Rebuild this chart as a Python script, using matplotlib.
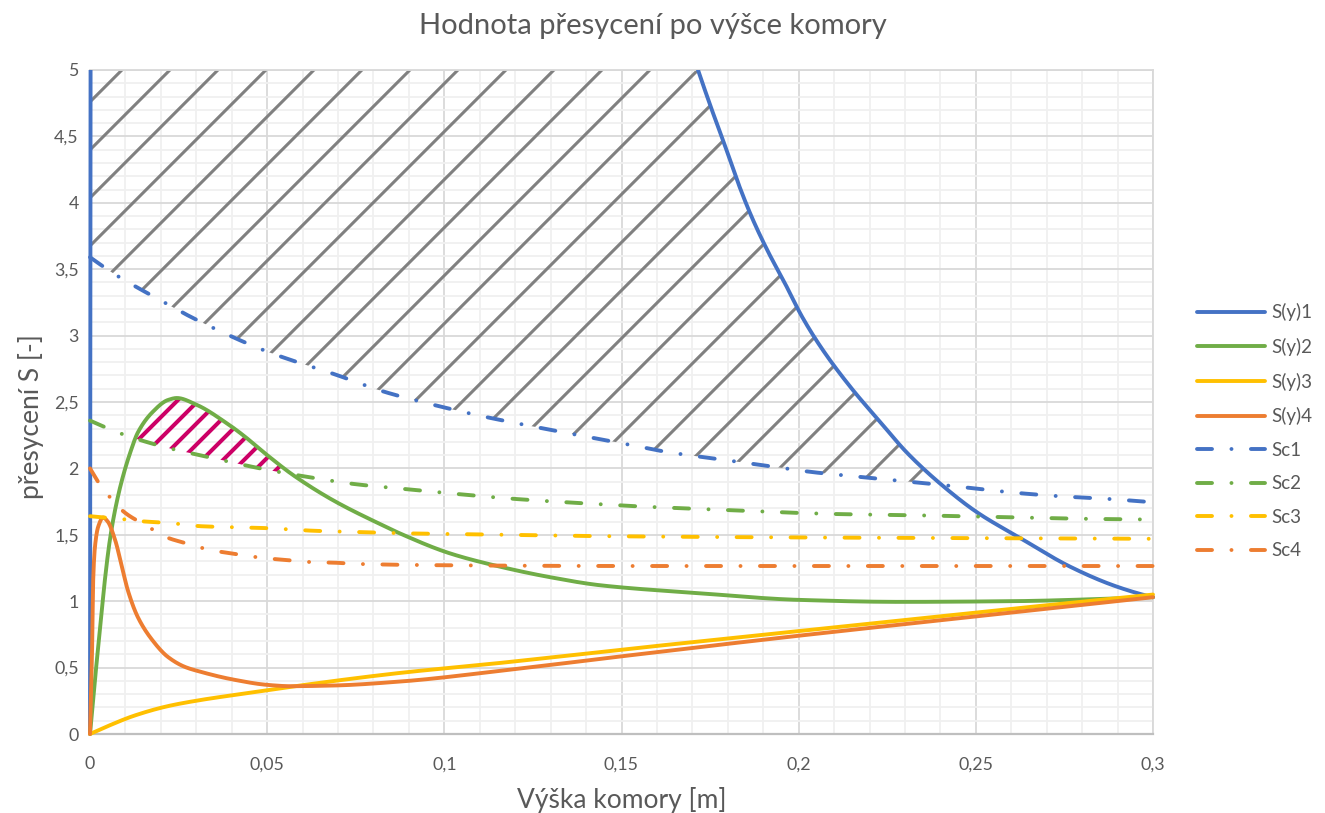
import numpy as np
import matplotlib.pyplot as plt
from matplotlib.collections import LineCollection
from matplotlib.patches import Rectangle
from matplotlib.path import Path
from matplotlib.ticker import MultipleLocator

plt.rcParams['font.family'] = ['Lato', 'DejaVu Sans']

TEXT = '#595959'

# --- supersaturation profiles S(y) ---
x_s1 = [0, 0.005, 0.05, 0.1, 0.15, 0.165, 0.1716, 0.1755, 0.1792, 0.1829, 0.1868,
        0.1914, 0.196, 0.201, 0.2066, 0.215, 0.223, 0.2305, 0.2404, 0.2503, 0.2625,
        0.2766, 0.2887, 0.297, 0.3]
s1 = [0, 150, 40, 12, 6.3, 5.55, 5.0, 4.70, 4.43, 4.15, 3.89,
      3.63, 3.40, 3.14, 2.90, 2.60, 2.35, 2.12, 1.875, 1.67, 1.476,
      1.26, 1.12, 1.05, 1.03]

x_s2 = [0, 0.0014, 0.0028, 0.0042, 0.0056, 0.0071, 0.009, 0.0113, 0.0135, 0.0175,
        0.022, 0.0245, 0.030, 0.0386, 0.0432, 0.050, 0.0573, 0.0686, 0.0827, 0.0875,
        0.1016, 0.1157, 0.13, 0.144, 0.172, 0.2, 0.2286, 0.26, 0.3]
s2 = [0, 0.41, 0.78, 1.16, 1.46, 1.69, 1.91, 2.115, 2.27, 2.42,
      2.515, 2.53, 2.48, 2.34, 2.25, 2.10, 1.95, 1.76, 1.57, 1.51,
      1.36, 1.26, 1.18, 1.12, 1.06, 1.01, 0.995, 1.0, 1.03]

x_s3 = [0, 0.0042, 0.0127, 0.022, 0.031, 0.045, 0.0565, 0.0875, 0.1157, 0.15, 0.2, 0.25, 0.3]
s3 = [0, 0.05, 0.14, 0.21, 0.255, 0.31, 0.355, 0.46, 0.535, 0.635, 0.775, 0.915, 1.05]

x_s4 = [0, 0.0006, 0.0009, 0.0014, 0.0023, 0.0037, 0.005, 0.0071, 0.009, 0.0107,
        0.0135, 0.0175, 0.022, 0.0268, 0.031, 0.0404, 0.05, 0.0565, 0.0686, 0.0875,
        0.1157, 0.15, 0.2, 0.25, 0.3]
s4 = [0, 0.65, 1.16, 1.41, 1.56, 1.63, 1.60, 1.46, 1.26, 1.08,
      0.88, 0.71, 0.58, 0.505, 0.47, 0.41, 0.37, 0.36, 0.365, 0.395,
      0.475, 0.585, 0.74, 0.885, 1.03]

# --- critical supersaturation Sc ---
x_c1 = [0, 0.0065, 0.0189, 0.03, 0.05, 0.07, 0.0827, 0.096, 0.1095, 0.13, 0.15,
        0.1637, 0.1773, 0.191, 0.2046, 0.218, 0.246, 0.2597, 0.2738, 0.2874, 0.3]
sc1 = [3.59, 3.47, 3.28, 3.12, 2.88, 2.70, 2.58, 2.485, 2.40, 2.29, 2.19,
       2.12, 2.07, 2.02, 1.97, 1.935, 1.86, 1.82, 1.79, 1.77, 1.745]

x_c2 = [0, 0.0079, 0.0212, 0.0344, 0.048, 0.0616, 0.0753, 0.089, 0.1025, 0.12,
        0.144, 0.158, 0.1717, 0.1853, 0.1995, 0.213, 0.2267, 0.2546, 0.282, 0.3]
sc2 = [2.36, 2.27, 2.16, 2.08, 2.00, 1.935, 1.88, 1.845, 1.81, 1.77,
       1.73, 1.71, 1.695, 1.68, 1.665, 1.655, 1.65, 1.635, 1.62, 1.615]

x_c3 = [0, 0.0085, 0.0155, 0.022, 0.031, 0.05, 0.0635, 0.077, 0.091, 0.105, 0.144, 0.2, 0.25, 0.3]
sc3 = [1.64, 1.62, 1.60, 1.59, 1.565, 1.55, 1.53, 1.52, 1.51, 1.505, 1.49, 1.48, 1.475, 1.47]

x_c4 = [0, 0.002, 0.0048, 0.008, 0.0107, 0.0155, 0.0217, 0.028, 0.034, 0.0414,
        0.0489, 0.0555, 0.062, 0.069, 0.0762, 0.1035, 0.15, 0.2, 0.3]
sc4 = [2.0, 1.91, 1.81, 1.71, 1.65, 1.575, 1.48, 1.43, 1.385, 1.355,
       1.325, 1.31, 1.295, 1.29, 1.28, 1.27, 1.265, 1.265, 1.265]

x_ticks = [0, 0.05, 0.1, 0.15, 0.2, 0.25, 0.3]
x_tick_labels = ['0', '0,05', '0,1', '0,15', '0,2', '0,25', '0,3']
y_ticks = [0, 0.5, 1, 1.5, 2, 2.5, 3, 3.5, 4, 4.5, 5]
y_tick_labels = ['0', '0,5', '1', '1,5', '2', '2,5', '3', '3,5', '4', '4,5', '5']

series = [
    ('S(y)1', x_s1, s1, '#4472C4', '-'),
    ('S(y)2', x_s2, s2, '#70AD47', '-'),
    ('S(y)3', x_s3, s3, '#FFC000', '-'),
    ('S(y)4', x_s4, s4, '#ED7D31', '-'),
    ('Sc1', x_c1, sc1, '#4472C4', 'dd'),
    ('Sc2', x_c2, sc2, '#70AD47', 'dd'),
    ('Sc3', x_c3, sc3, '#FFC000', 'dd'),
    ('Sc4', x_c4, sc4, '#ED7D31', 'dd'),
]


def smooth(x, y, xq):
    """Monotone cubic (Fritsch-Carlson) curve through the points, evaluated at xq."""
    x = np.asarray(x, float)
    y = np.asarray(y, float)
    h = np.diff(x)
    d = np.diff(y) / h
    m = np.zeros_like(y)
    m[0], m[-1] = d[0], d[-1]
    for k in range(1, len(x) - 1):
        if d[k - 1] * d[k] > 0:
            w1 = 2 * h[k] + h[k - 1]
            w2 = h[k] + 2 * h[k - 1]
            m[k] = (w1 + w2) / (w1 / d[k - 1] + w2 / d[k])
    idx = np.clip(np.searchsorted(x, xq, side='right') - 1, 0, len(x) - 2)
    t = (xq - x[idx]) / h[idx]
    h00 = 2 * t**3 - 3 * t**2 + 1
    h10 = t**3 - 2 * t**2 + t
    h01 = -2 * t**3 + 3 * t**2
    h11 = t**3 - t**2
    return h00 * y[idx] + h10 * h[idx] * m[idx] + h01 * y[idx + 1] + h11 * h[idx] * m[idx + 1]


W, H = 1325, 813
fig = plt.figure(figsize=(W / 100, H / 100), dpi=100)
ax = fig.add_axes([90 / W, 1 - 734 / H, (1153 - 90) / W, (734 - 70) / H])
ax.set_xlim(0, 0.3)
ax.set_ylim(0, 5)

# grid
ax.set_xticks(x_ticks)
ax.set_xticklabels(x_tick_labels)
ax.set_yticks(y_ticks)
ax.set_yticklabels(y_tick_labels)
ax.xaxis.set_minor_locator(MultipleLocator(0.01))
ax.yaxis.set_minor_locator(MultipleLocator(0.1))
ax.set_axisbelow(True)
ax.grid(which='minor', color='#F0F0F0', lw=1.3)
ax.grid(which='major', color='#D9D9D9', lw=1.3)
for side in ('top', 'right', 'left'):
    ax.spines[side].set_color('#D9D9D9')
    ax.spines[side].set_linewidth(1.3)
ax.spines['bottom'].set_color('#BFBFBF')
ax.spines['bottom'].set_linewidth(1.6)
ax.tick_params(which='both', length=0)
ax.tick_params(axis='x', labelsize=12.8, colors=TEXT, pad=16)
ax.tick_params(axis='y', labelsize=12.8, colors=TEXT, pad=8)

ax_w = W * ax.get_position().width
ax_h = H * ax.get_position().height
px_x = ax_w / 0.3
px_y = ax_h / 5.0
slope = px_x / px_y  # 45 degrees on screen

xg = np.linspace(0, 0.3, 6001)
curves = {label: smooth(xs, ys, xg) for label, xs, ys, _, _ in series}


def hatch_region(lo, hi, anchor, step_px, color, lw):
    poly = ax.fill_between(xg, lo, hi, where=hi > lo, interpolate=True,
                           facecolor='none', edgecolor='none', lw=0)
    clip = Path.make_compound_path(*poly.get_paths())
    step = step_px / px_x
    ax0, ay0 = anchor
    segs = []
    for n in range(-120, 120):
        c = ax0 + n * step
        xa = c + (-1 - ay0) / slope
        xb = c + (7 - ay0) / slope
        segs.append([(xa, -1), (xb, 7)])
    lc = LineCollection(segs, colors=color, linewidths=lw, zorder=1.5)
    ax.add_collection(lc)
    lc.set_clip_path(clip, ax.transData)


# region between Sc1 and S(y)1, and between Sc2 and S(y)2
hatch_region(curves['Sc1'], np.minimum(curves['S(y)1'], 5.0), (0.009, 5.0), 48, '#808080', 2.2)
hatch_region(curves['Sc2'], curves['S(y)2'], (0.0254, 2.53), 21, '#CC0066', 2.9)

# curves
clip_rect = Rectangle((-0.01, -0.01), 1.02, 1.01, transform=ax.transAxes,
                      facecolor='none', edgecolor='none')
dashdot = (0, (3.86, 5.0, 0.01, 5.0))
for label, xs, ys, color, style in series:
    ls = '-' if style == '-' else dashdot
    line, = ax.plot(xg, curves[label], color=color, lw=2.8, ls=ls, label=label,
                    solid_capstyle='round', dash_capstyle='round', zorder=3)
    line.set_clip_path(clip_rect)

# text
fig.text(0.493, 1 - 26 / H, 'Hodnota přesycení po výšce komory', ha='center', va='center',
         fontsize=21, color=TEXT)
ax.set_xlabel('Výška komory [m]', fontsize=19, color=TEXT, va='center')
ax.xaxis.set_label_coords(0.5, (734 - 800) / ax_h)
ax.set_ylabel('přesycení S [-]', fontsize=19, color=TEXT, va='center')
ax.yaxis.set_label_coords((31 - 90) / ax_w, (734 - 417) / ax_h)

handles, labels = ax.get_legend_handles_labels()
fig.legend(handles, labels, loc='upper left', bbox_to_anchor=(1188 / W, 1 - 294 / H),
           frameon=False, fontsize=13.5, handlelength=3.6, handletextpad=0.35,
           labelspacing=0.88, labelcolor=TEXT, borderpad=0)

fig.savefig('out.png', dpi=100, facecolor='white')
